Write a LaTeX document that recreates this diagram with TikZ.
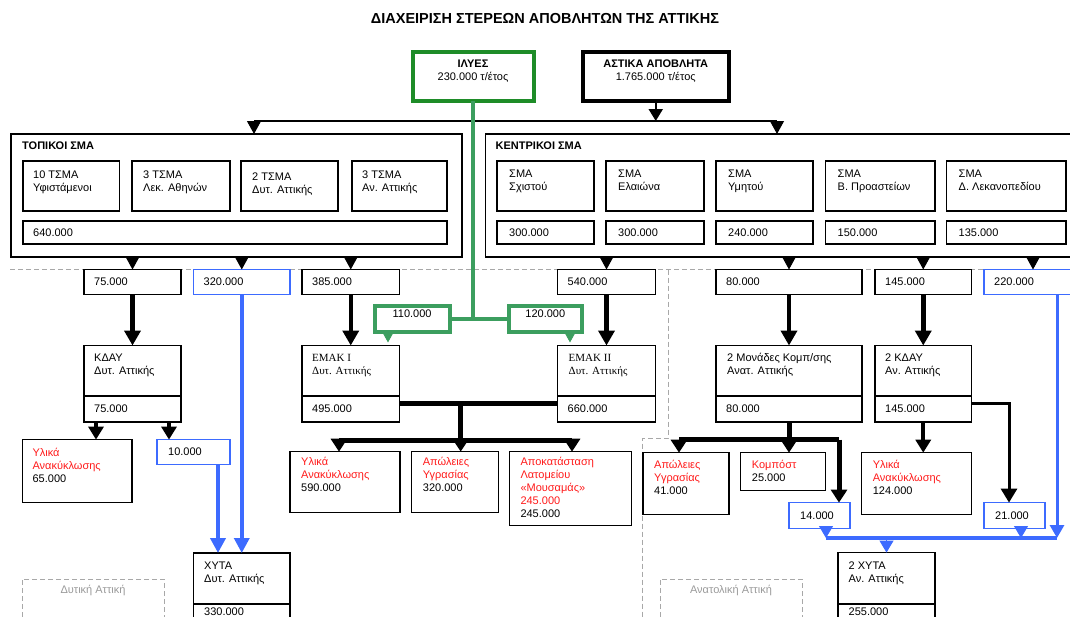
\documentclass[tikz,border=0pt]{standalone}
\usepackage{fontspec}
\setmainfont{Liberation Sans}
\newfontfamily\serifgr{Liberation Serif}
\usetikzlibrary{arrows.meta,calc}
\definecolor{dkgreen}{HTML}{1E8C28}
\definecolor{ltgreen}{HTML}{3C9E5F}
\definecolor{myblue}{HTML}{3D6BFF}
\definecolor{myred}{HTML}{FF1A1A}
\definecolor{dgray}{HTML}{A8A8A8}
\definecolor{lblgray}{HTML}{9A9A9A}
% box: name, x1, y1, x2, y2, style
\newcommand\bx[6]{\node[inner sep=0pt, outer sep=0pt, #6, minimum width={#4-#2}, minimum height={#5-#3}, anchor=north west] (#1) at (#2,#3) {};}
% multi-line text at top-left of a box
\newcommand\tx[3]{\node[txt, anchor=north west, align=left, inner sep=0pt] at ($(#1.north west)+(#2)$) {\rule{0pt}{9pt}#3};}
% single value text
\newcommand\vx[3]{\node[txt, anchor=west, inner sep=0pt] at ($(#1.west)+(#2,0)$) {#3};}
\newcommand\rd[1]{\textcolor{myred}{#1}}
\begin{document}
\begin{tikzpicture}[x=1pt,y=-1pt,
  txt/.style={font=\fontsize{11}{13}\selectfont},
  boldtxt/.style={font=\fontsize{11}{13}\selectfont\bfseries},
  box/.style={draw, line width=1.2pt, fill=white},
  bbox/.style={draw=myblue, line width=1.2pt, fill=white},
  gbox/.style={draw=ltgreen, line width=4pt, fill=white},
  dbox/.style={draw=dgray, line width=1pt, dash pattern=on 5pt off 3pt},
  sep/.style={draw=dgray, line width=1pt, dash pattern=on 5pt off 3pt},
  headonly/.style={line width=1pt, -{Triangle[length=13pt,width=14pt]}},
  bigarrow/.style={line width=4.5pt, -{Triangle[length=15pt,width=16pt]}},
  medarrow/.style={line width=4pt, -{Triangle[length=13pt,width=15pt]}},
  sidearrow/.style={line width=3pt, -{Triangle[length=14pt,width=16pt]}},
  eline/.style={line width=5pt},
  earrow/.style={line width=5pt, -{Triangle[length=13pt,width=16pt]}},
  gline/.style={draw=ltgreen, line width=3.5pt},
  garrow/.style={ltgreen, line width=1pt, -{Triangle[length=12pt,width=13pt]}},
  bthick/.style={myblue, line width=4.5pt, -{Triangle[length=15pt,width=15pt]}},
  bmed/.style={myblue, line width=3.5pt},
  bmedarrow/.style={myblue, line width=3pt, -{Triangle[length=13pt,width=14pt]}},
  bhead/.style={myblue, line width=1pt, -{Triangle[length=12pt,width=14pt]}}
]
\useasboundingbox (0,0) rectangle (1070,616);
\clip (0,0) rectangle (1070,616);

% title
\node[font=\fontsize{14.5}{16}\selectfont\bfseries] (title) at (545,19) {ΔΙΑΧΕΙΡΙΣΗ ΣΤΕΡΕΩΝ ΑΠΟΒΛΗΤΩΝ ΤΗΣ ΑΤΤΙΚΗΣ};

% dashed separators
\draw[sep] (10,269.5) -- (1070,269.5);
\draw[sep] (668,269.5) -- (668,438) -- (642,438) -- (642,620);

% top boxes
\bx{ily}{412.5}{52}{533.5}{100.5}{draw=dkgreen, line width=4pt, fill=white}
\node[txt, align=center, anchor=north, inner sep=0pt] at ($(ily.north)+(0,6.7)$) {\rule{0pt}{9pt}\textbf{ΙΛΥΕΣ}\\230.000 τ/έτος};
\bx{ast}{583}{52}{728.5}{101}{draw, line width=4pt, fill=white}
\node[txt, align=center, anchor=north, inner sep=0pt] at ($(ast.north)+(0,6.7)$) {\rule{0pt}{9pt}\textbf{ΑΣΤΙΚΑ ΑΠΟΒΛΗΤΑ}\\1.765.000 τ/έτος};

% panels
\bx{tp}{11}{134}{462}{257}{box}
\node[boldtxt, anchor=west, inner sep=0pt] at ($(tp.north west)+(11,12)$) {ΤΟΠΙΚΟΙ ΣΜΑ};
\bx{t1}{23}{161}{119.5}{211}{box} \tx{t1}{10,8}{10 ΤΣΜΑ\\Υφιστάμενοι}
\bx{t2}{132}{161}{230}{211}{box} \tx{t2}{11,8}{3 ΤΣΜΑ\\Λεκ. Αθηνών}
\bx{t3}{241}{161}{338}{211}{box} \tx{t3}{11,10}{2 ΤΣΜΑ\\Δυτ. Αττικής}
\bx{t4}{352}{161}{447}{211}{box} \tx{t4}{10,8}{3 ΤΣΜΑ\\Αν. Αττικής}
\bx{t640}{23}{221}{447}{244}{box} \vx{t640}{10}{640.000}

\bx{kp}{485.5}{134}{1085}{257}{box}
\node[boldtxt, anchor=west, inner sep=0pt] at ($(kp.north west)+(10,12)$) {ΚΕΝΤΡΙΚΟΙ ΣΜΑ};
\bx{s1}{497}{161}{594}{211}{box} \tx{s1}{12,7}{ΣΜΑ\\Σχιστού}
\bx{s2}{606}{161}{704}{211}{box} \tx{s2}{12,7}{ΣΜΑ\\Ελαιώνα}
\bx{s3}{716}{161}{813}{211}{box} \tx{s3}{12,7}{ΣΜΑ\\Υμητού}
\bx{s4}{825.5}{161}{935}{211}{box} \tx{s4}{12,7}{ΣΜΑ\\Β. Προαστείων}
\bx{s5}{946.5}{161}{1066}{211}{box} \tx{s5}{12,7}{ΣΜΑ\\Δ. Λεκανοπεδίου}
\bx{s1v}{497}{221}{594}{244}{box} \vx{s1v}{12}{300.000}
\bx{s2v}{606}{221}{704}{244}{box} \vx{s2v}{12}{300.000}
\bx{s3v}{716}{221}{813}{244}{box} \vx{s3v}{12}{240.000}
\bx{s4v}{825.5}{221}{935}{244}{box} \vx{s4v}{12}{150.000}
\bx{s5v}{946.5}{221}{1066}{244}{box} \vx{s5v}{12}{135.000}

% top connectors
\coordinate (hl) at (254,121);
\coordinate (hr) at (777,121);
\draw[line width=2pt] (hl) -- (hr);
\draw[line width=2pt, -{Triangle[length=12pt,width=14pt]}] (ast.south) -- (ast.south |- hl);
\draw[headonly] (hl) -- (hl |- tp.north);
\draw[headonly] (hr) -- (hr |- kp.north);

% value row
\bx{v75}{84}{269.5}{181}{294.5}{box} \vx{v75}{10}{75.000}
\bx{v320}{193.5}{269.5}{290}{294.5}{bbox} \vx{v320}{10}{320.000}
\bx{v385}{302}{269.5}{399.5}{294.5}{box} \vx{v385}{10}{385.000}
\bx{v540}{557.5}{269.5}{655.5}{294.5}{box} \vx{v540}{10}{540.000}
\bx{v80}{716}{269.5}{862}{294.5}{box} \vx{v80}{10}{80.000}
\bx{v145}{875}{269.5}{971.5}{294.5}{box} \vx{v145}{10}{145.000}
\bx{v220}{984}{269.5}{1082}{294.5}{bbox} \vx{v220}{10}{220.000}

\foreach \v in {v75,v320,v385} \draw[headonly] (\v.north |- tp.south) -- (\v.north);
\foreach \v in {v540,v80,v145,v220} \draw[headonly] (\v.north |- kp.south) -- (\v.north);

% green sludge flow
\bx{g110}{374.7}{306}{449.5}{332}{gbox}
\node[txt, inner sep=0pt] at ($(g110.north)+(0,8)$) {110.000};
\bx{g120}{509}{306}{581.7}{332}{gbox}
\node[txt, inner sep=0pt] at ($(g120.north)+(0,8)$) {120.000};
\coordinate (gj) at (ily.south |- g110.east);
\draw[gline] (ily.south) -- (gj);
\draw[gline] (g110.east) -- (g120.west);

% middle boxes
\bx{kday}{84}{345.5}{181}{396}{box} \tx{kday}{10,7}{ΚΔΑΥ\\Δυτ. Αττικής}
\bx{kdayv}{84}{396}{181}{422}{box} \vx{kdayv}{10}{75.000}
\bx{e1}{302}{345.5}{399.5}{396}{box} \tx{e1}{10,7}{\serifgr ΕΜΑΚ Ι\\\serifgr Δυτ. Αττικής}
\bx{e1v}{302}{396}{399.5}{422}{box} \vx{e1v}{10}{495.000}
\bx{e2}{557.5}{345.5}{655.5}{396}{box} \tx{e2}{11,7}{\serifgr ΕΜΑΚ ΙΙ\\\serifgr Δυτ. Αττικής}
\bx{e2v}{557.5}{396}{655.5}{422}{box} \vx{e2v}{10}{660.000}
\draw[line width=2.5pt] (e2.south west) -- (e2.south east);
\bx{c1}{716}{345.5}{862}{396}{box} \tx{c1}{11,7}{2 Μονάδες Κομπ/σης\\Ανατ. Αττικής}
\bx{c1v}{716}{396}{862}{422}{box} \vx{c1v}{10}{80.000}
\bx{kday2}{875}{345.5}{971.5}{396}{box} \tx{kday2}{10,7}{2 ΚΔΑΥ\\Αν. Αττικής}
\bx{kday2v}{875}{396}{971.5}{422}{box} \vx{kday2v}{10}{145.000}

% green arrowheads
\coordinate (ga1) at (388,331);
\coordinate (ga2) at (570,331);
\draw[garrow, shorten >=3pt] (ga1) -- (ga1 |- e1.north);
\draw[garrow, shorten >=3pt] (ga2) -- (ga2 |- e2.north);

% thick arrows into middle row
\draw[bigarrow] (v75.south) -- (kday.north);
\draw[bigarrow] (v385.south) -- (e1.north);
\draw[bigarrow] (v540.south) -- (e2.north);
\draw[bigarrow] (v80.south) -- (c1.north);
\draw[bigarrow] (v145.south) -- (kday2.north);

% bottom boxes
\bx{r65}{22.4}{439.6}{132}{502.6}{box} \tx{r65}{10,8}{\rd{Υλικά}\\\rd{Ανακύκλωσης}\\65.000}
\bx{b10}{157}{439.6}{230}{464.8}{bbox} \vx{b10}{11}{10.000}
\bx{o590}{290}{451.7}{400}{512.3}{box} \tx{o590}{11,5}{\rd{Υλικά}\\\rd{Ανακύκλωσης}\\590.000}
\bx{o320}{411.7}{451.7}{498.3}{512.3}{box} \tx{o320}{11,5}{\rd{Απώλειες}\\\rd{Υγρασίας}\\320.000}
\bx{o245}{509.3}{451.7}{631.7}{525.7}{box} \tx{o245}{11,5}{\rd{Αποκατάσταση}\\\rd{Λατομείου}\\\rd{«Μουσαμάς»}\\\rd{245.000}\\245.000}
\bx{a41}{643}{452.7}{729}{514.7}{box} \tx{a41}{11,7}{\rd{Απώλειες}\\\rd{Υγρασίας}\\41.000}
\bx{komp}{740.7}{452.7}{825.5}{490.6}{box} \tx{komp}{11,7}{\rd{Κομπόστ}\\25.000}
\bx{r124}{861.6}{452.7}{971.5}{514.7}{box} \tx{r124}{11,7}{\rd{Υλικά}\\\rd{Ανακύκλωσης}\\124.000}
\bx{b14}{789}{502.6}{850}{528.8}{bbox} \vx{b14}{11}{14.000}
\bx{b21}{984}{502.6}{1045}{528.8}{bbox} \vx{b21}{11}{21.000}

\bx{x1}{193.5}{553}{290}{604}{box} \tx{x1}{10.5,7.3}{ΧΥΤΑ\\Δυτ. Αττικής}
\bx{x1v}{193.5}{604}{290}{632}{box}
\node[txt, anchor=west, inner sep=0pt] at ($(x1v.north west)+(10.5,7.5)$) {330.000};
\bx{x2}{838}{552.6}{935}{604}{box} \tx{x2}{10.5,7.3}{2 ΧΥΤΑ\\Αν. Αττικής}
\bx{x2v}{838}{604}{935}{632}{box}
\node[txt, anchor=west, inner sep=0pt] at ($(x2v.north west)+(10.5,7.5)$) {255.000};

\bx{dw}{22}{579}{164}{622}{dbox}
\node[txt, text=lblgray, inner sep=0pt] at (93,590.5) {Δυτική Αττική};
\bx{an}{660}{579}{802}{622}{dbox}
\node[txt, text=lblgray, inner sep=0pt] at (731,590.5) {Ανατολική Αττική};

% ΚΔΑΥ outputs
\coordinate (ka) at ([xshift=12pt]kdayv.south west);
\coordinate (kb) at ([xshift=-12pt]kdayv.south east);
\draw[medarrow] (ka) -- (ka |- r65.north);
\draw[medarrow] (kb) -- (kb |- b10.north);

% blue to ΧΥΤΑ Δυτ.
\coordinate (bt) at ([xshift=-12pt]b10.south east);
\draw[bthick] (bt) -- (bt |- x1.north);
\draw[myblue, line width=3.5pt, -{Triangle[length=15pt,width=15pt]}] (v320.south) -- (v320.south |- x1.north);

% ΕΜΑΚ outputs
\coordinate (ej) at ($(e1v.east)+(0,-6)$);
\coordinate (em) at (460.7,403);
\coordinate (el) at (339,440);
\coordinate (er) at (572,440);
\draw[eline] (ej) -- (ej -| e2v.west);
\draw[eline] (el) -- (er);
\draw[earrow] (em) -- (em |- o320.north);
\draw[earrow] (el) -- (el |- o590.north);
\draw[earrow] (er) -- (er |- o245.north);

% compost outputs
\coordinate (cl) at (679,439.6);
\coordinate (cr) at (839,439.6);
\draw[eline] (cl) -- (cr);
\draw[earrow] (c1v.south) -- (c1v.south |- komp.north);
\draw[earrow] (cl) -- (cl |- a41.north);
\draw[earrow] (cr) -- (cr |- b14.north);

% 2 ΚΔΑΥ outputs
\draw[medarrow] (kday2v.south) -- (kday2v.south |- r124.north);
\coordinate (kc) at (1009,403);
\draw[sidearrow] ($(kday2v.east)+(0,-6)$) -- (kc) -- (kc |- b21.north);

% blue collector to 2 ΧΥΤΑ
\coordinate (bl) at (826,538);
\coordinate (br) at (1057,538);
\coordinate (bm) at (1021,538);
\draw[bmed] (bl) -- (br);
\draw[bhead] (bl |- b14.south) -- (bl);
\draw[bhead] (bm |- b21.south) -- (bm);
\draw[bmedarrow] (br |- v220.south) -- (br);
\draw[bhead] (x2.north |- bl) -- (x2.north);
\end{tikzpicture}
\end{document}
